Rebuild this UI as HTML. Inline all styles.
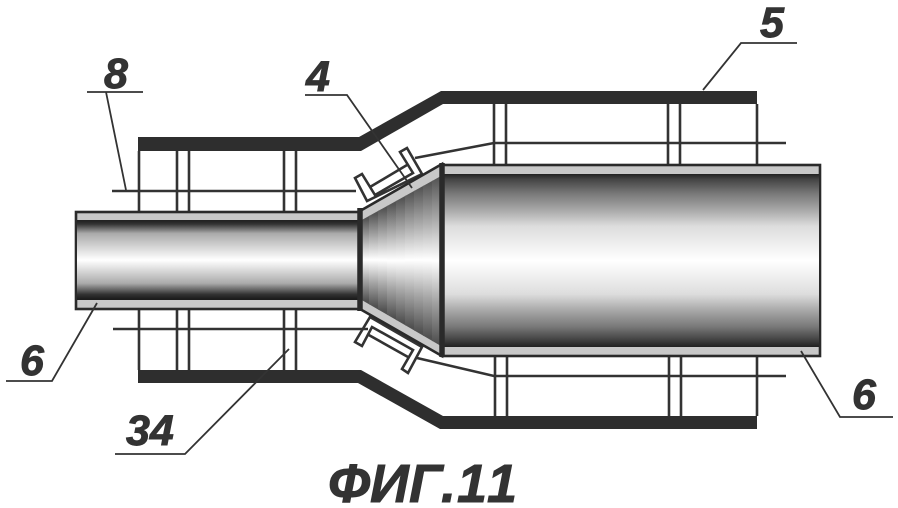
<!DOCTYPE html>
<html>
<head>
<meta charset="utf-8">
<style>
html,body{margin:0;padding:0;background:#fff;width:898px;height:508px;overflow:hidden}
svg{display:block}
text{font-family:"Liberation Sans","DejaVu Sans",sans-serif;font-weight:bold;font-style:italic;fill:#333;stroke:#333;stroke-width:.9px}
</style>
</head>
<body>
<svg width="898" height="508" viewBox="0 0 898 508" xmlns="http://www.w3.org/2000/svg">
<defs>
<linearGradient id="lp" x1="0" y1="221" x2="0" y2="299" gradientUnits="userSpaceOnUse">
<stop offset="0" stop-color="#222"/><stop offset=".04" stop-color="#333"/><stop offset=".16" stop-color="#aaa"/><stop offset=".5" stop-color="#fff"/><stop offset=".8" stop-color="#aaa"/><stop offset=".94" stop-color="#333"/><stop offset="1" stop-color="#1c1c1c"/>
</linearGradient>
<linearGradient id="rp" x1="0" y1="174" x2="0" y2="348" gradientUnits="userSpaceOnUse">
<stop offset="0" stop-color="#222"/><stop offset=".03" stop-color="#444"/><stop offset=".11" stop-color="#777"/><stop offset=".21" stop-color="#aaa"/><stop offset=".3" stop-color="#ddd"/><stop offset=".5" stop-color="#fff"/><stop offset=".69" stop-color="#ddd"/><stop offset=".78" stop-color="#aaa"/><stop offset=".88" stop-color="#777"/><stop offset=".95" stop-color="#444"/><stop offset="1" stop-color="#1c1c1c"/>
</linearGradient>
<linearGradient id="cp" x1="0" y1="0" x2="0" y2="1">
<stop offset="0" stop-color="#555"/><stop offset=".25" stop-color="#aaa"/><stop offset=".5" stop-color="#fff"/><stop offset=".75" stop-color="#a4a4a4"/><stop offset="1" stop-color="#505050"/>
</linearGradient>
<linearGradient id="c1" href="#cp" gradientUnits="userSpaceOnUse" x1="0" x2="0" y1="219" y2="301"/>
<linearGradient id="c2" href="#cp" gradientUnits="userSpaceOnUse" x1="0" x2="0" y1="214" y2="306"/>
<linearGradient id="c3" href="#cp" gradientUnits="userSpaceOnUse" x1="0" x2="0" y1="209" y2="311"/>
<linearGradient id="c4" href="#cp" gradientUnits="userSpaceOnUse" x1="0" x2="0" y1="204" y2="317"/>
<linearGradient id="c5" href="#cp" gradientUnits="userSpaceOnUse" x1="0" x2="0" y1="199" y2="322"/>
<linearGradient id="c6" href="#cp" gradientUnits="userSpaceOnUse" x1="0" x2="0" y1="193" y2="327"/>
<linearGradient id="c7" href="#cp" gradientUnits="userSpaceOnUse" x1="0" x2="0" y1="188" y2="332"/>
<linearGradient id="c8" href="#cp" gradientUnits="userSpaceOnUse" x1="0" x2="0" y1="183" y2="337"/>
<linearGradient id="c9" href="#cp" gradientUnits="userSpaceOnUse" x1="0" x2="0" y1="178" y2="343"/>
<clipPath id="cc"><polygon points="360,221 441,176 441,346 360,299"/></clipPath>
</defs>

<!-- jackets -->
<polygon points="138,137 359,137 441,91 757,91 757,104 443,104 361,151 138,151" fill="#2e2e2e"/>
<polygon points="138,370 361,370 443,416 757,416 757,429 440,429 358,383 138,383" fill="#2e2e2e"/>

<g stroke="#333" stroke-width="2.600" fill="none">
<!-- upper verticals -->
<path d="M139 151V211M177 151V211M189 151V211M284 151V211M296 151V211"/>
<path d="M494 104V164M506 104V164M668 104V164M680 104V164M757 104V164"/>
<!-- lower verticals -->
<path d="M139 309V370M177 309V370M189 309V370M284 309V370M296 309V370"/>
<path d="M495 356V416M507 356V416M669 356V416M681 356V416M757 356V416"/>
<!-- horizontals -->
<path d="M112 191H356"/>
<path d="M113 329H368"/>
<path d="M415 158L494 143H786"/>
<path d="M417 358L494 376H786"/>
<!-- upper bracket -->
<path d="M362 174L355 178L367 201L422 174L407 148L400 152L413 173L375 195Z"/>
<path d="M370 187L407 165"/>
<!-- lower bracket -->
<path d="M362 346L355 342L370 317L422 347L408 373L402 369L413 350L372 327Z"/>
<path d="M367 334L408 357"/>
</g>

<!-- left pipe -->
<rect x="76" y="212" width="283" height="97" fill="#c8c8c8" stroke="#2a2a2a" stroke-width="2.600"/>
<rect x="77" y="220" width="281" height="80" fill="url(#lp)"/>

<!-- cone -->
<polygon points="360,211 442,164 442,356 360,309" fill="#c8c8c8" stroke="#2a2a2a" stroke-width="2.600"/>
<g clip-path="url(#cc)">
<rect x="360" y="170" width="10" height="180" fill="url(#c1)"/>
<rect x="369" y="170" width="10" height="180" fill="url(#c2)"/>
<rect x="378" y="170" width="10" height="180" fill="url(#c3)"/>
<rect x="387" y="170" width="10" height="180" fill="url(#c4)"/>
<rect x="396" y="170" width="10" height="180" fill="url(#c5)"/>
<rect x="405" y="170" width="10" height="180" fill="url(#c6)"/>
<rect x="414" y="170" width="10" height="180" fill="url(#c7)"/>
<rect x="423" y="170" width="10" height="180" fill="url(#c8)"/>
<rect x="432" y="170" width="10" height="180" fill="url(#c9)"/>
</g>

<!-- right pipe -->
<rect x="442" y="165" width="378" height="191" fill="#c8c8c8" stroke="#2a2a2a" stroke-width="2.600"/>
<rect x="443" y="174" width="376" height="173" fill="url(#rp)"/>

<!-- heavy joints -->
<path d="M360 208V311" stroke="#2a2a2a" stroke-width="5.500"/>
<path d="M442 163V357" stroke="#2a2a2a" stroke-width="5.500"/>

<!-- leaders -->
<g stroke="#333" stroke-width="1.800" fill="none">
<path d="M87 92H143M106 92L126 190"/>
<path d="M305 95H347L412 188"/>
<path d="M703 90L741 43H797"/>
<path d="M6 381H52L97 303"/>
<path d="M115 454H185L289 349"/>
<path d="M801 351L840 417H893"/>
</g>

<!-- labels -->
<text x="104" y="88" font-size="43">8</text>
<text x="306" y="91" font-size="43">4</text>
<text x="760" y="37" font-size="43">5</text>
<text x="20" y="375" font-size="43">6</text>
<text x="126" y="445" font-size="43">34</text>
<text x="852" y="409" font-size="43">6</text>
<text x="328 370 409 441 457 487" y="502" font-size="54">ФИГ.11</text>
</svg>
</body>
</html>
